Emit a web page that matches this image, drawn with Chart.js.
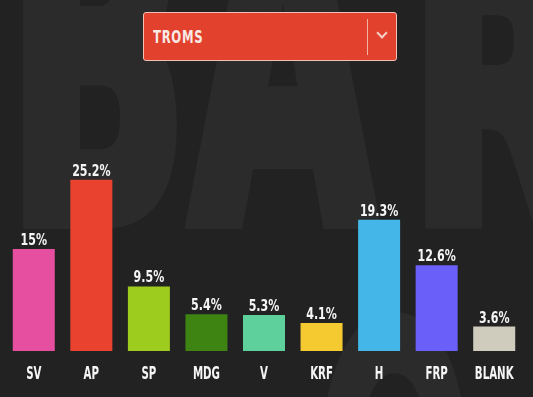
<!DOCTYPE html>
<html><head><meta charset="utf-8">
<script src="https://cdn.jsdelivr.net/npm/chart.js@4.4.1/dist/chart.umd.min.js"></script>
<style>
html,body{margin:0;padding:0;background:#222222;width:533px;height:397px;overflow:hidden;}
#wrap{position:relative;width:533px;height:397px;overflow:hidden;}
.wm{position:absolute;font-family:'Liberation Sans Narrow','DejaVu Sans Condensed',sans-serif;font-weight:bold;color:#2b2b2b;-webkit-text-stroke:22px #2b2b2b;white-space:nowrap;transform-origin:0 390px;line-height:1;font-size:450px;}
#chartBox{position:absolute;left:0;top:0;width:533px;height:397px;}
#sel{position:absolute;left:143px;top:12px;width:254px;height:49px;background:#e2412d;border:1px solid #f2c0b3;border-radius:3px;box-sizing:border-box;}
#selText{position:absolute;left:9px;top:14px;font-family:'Liberation Sans Narrow','DejaVu Sans Condensed',sans-serif;font-weight:bold;font-size:18px;line-height:20px;color:#f7e9e6;letter-spacing:1px;transform:scaleX(0.72);transform-origin:0 0;}
#selDiv{position:absolute;left:223px;top:6px;width:1px;height:36px;background:#f0b3a6;}
#chev{position:absolute;left:234px;top:16px;width:6px;height:6px;border-right:2px solid #f3cfc7;border-bottom:2px solid #f3cfc7;transform:rotate(45deg);}
</style></head>
<body>
<div id="wrap">
  <div class="wm" style="left:8px;top:-163px;transform:scaleX(0.58)">B</div>
  <div class="wm" style="left:192px;top:-163px;transform:scaleX(0.58)">A</div>
  <div class="wm" style="left:410px;top:-163px;transform:scale(0.58,0.8)">R</div>
  <div class="wm" style="left:310px;top:265px;transform:scaleX(0.49);-webkit-text-stroke:0">O</div>
  <div id="chartBox"><canvas id="c" width="533" height="397"></canvas></div>
  <div id="sel"><div id="selText">TROMS</div><div id="selDiv"></div><div id="chev"></div></div>
</div>
<script>
const selectedRegion = 'TROMS';
const categories = ['SV','AP','SP','MDG','V','KRF','H','FRP','BLANK'];
const values = [15, 25.2, 9.5, 5.4, 5.3, 4.1, 19.3, 12.6, 3.6];
const valueLabels = ['15%','25.2%','9.5%','5.4%','5.3%','4.1%','19.3%','12.6%','3.6%'];
const barColors = ['#e64f9f','#e9432f','#9dcc1f','#3d8413','#5dd09c','#f5ca31','#44b7e8','#6b5ff9','#cfcbbd'];

document.getElementById('selText').textContent = selectedRegion;

const FONT = '"Liberation Sans Narrow","DejaVu Sans Condensed",sans-serif';
const labelPlugin = {
  id: 'barLabels',
  afterDatasetsDraw(chart) {
    const ctx = chart.ctx;
    const meta = chart.getDatasetMeta(0);
    const bottom = chart.chartArea.bottom;
    ctx.save();
    ctx.fillStyle = '#f5f5f5';
    ctx.textAlign = 'center';
    ctx.textBaseline = 'alphabetic';
    meta.data.forEach((bar, i) => {
      ctx.save();
      ctx.translate(bar.x, bar.y - 4);
      ctx.scale(0.82, 1);
      ctx.font = 'bold 15px ' + FONT;
      ctx.fillText(valueLabels[i], 0, 0);
      ctx.restore();
      ctx.save();
      ctx.translate(bar.x, bottom + 27.5);
      ctx.scale(0.65, 1);
      ctx.font = 'bold 17.5px ' + FONT;
      ctx.fillText(categories[i], 0, 0);
      ctx.restore();
    });
    ctx.restore();
  }
};

new Chart(document.getElementById('c'), {
  type: 'bar',
  data: {
    labels: categories,
    datasets: [{
      data: values,
      backgroundColor: barColors,
      borderWidth: 0,
      barPercentage: 0.73,
      categoryPercentage: 1.0
    }]
  },
  options: {
    responsive: false,
    animation: false,
    layout: { padding: { left: 5, right: 10, top: 147, bottom: 46 } },
    plugins: { legend: { display: false }, tooltip: { enabled: false } },
    scales: {
      x: { display: false },
      y: { display: false, min: 0, max: 30 }
    }
  },
  plugins: [labelPlugin]
});
</script>
</body></html>
